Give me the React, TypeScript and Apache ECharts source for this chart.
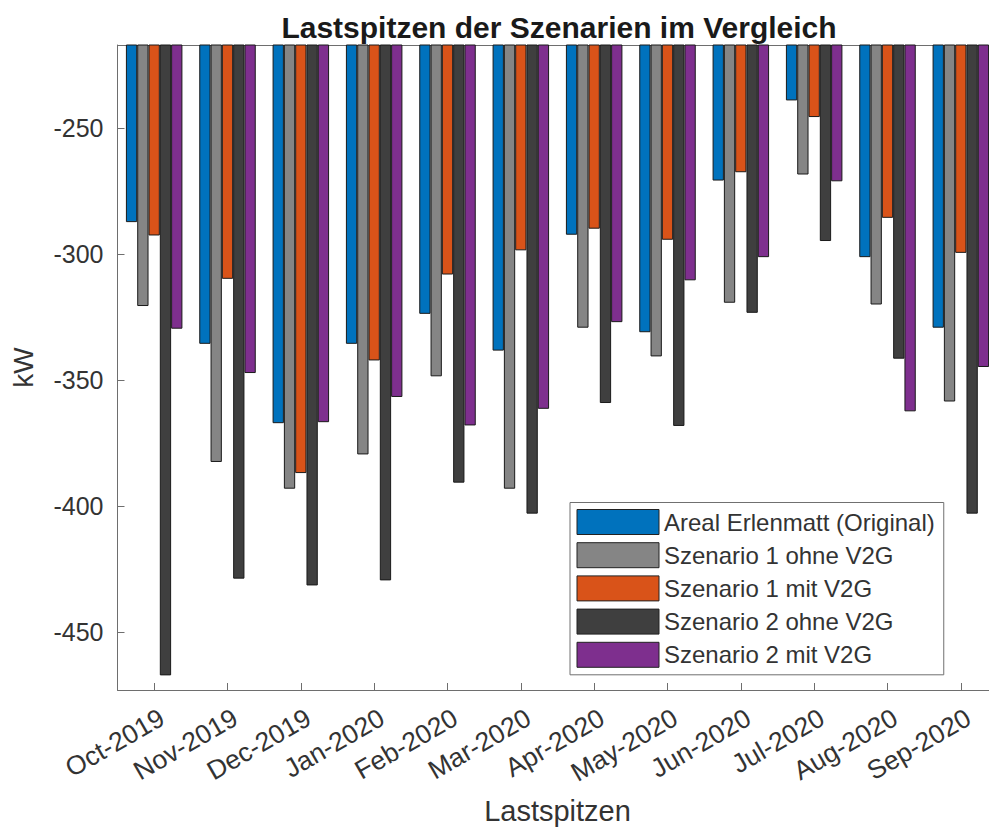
import React, { useEffect, useRef } from "react";
import * as echarts from "echarts";

// Monthly load peaks (kW, negative = draw from grid)
const months = [
  "Oct-2019", "Nov-2019", "Dec-2019", "Jan-2020", "Feb-2020", "Mar-2020",
  "Apr-2020", "May-2020", "Jun-2020", "Jul-2020", "Aug-2020", "Sep-2020",
];
const arealOriginal = [-287.3, -335.6, -367.1, -335.6, -323.7, -338.3, -292.3, -331.0, -270.8, -239.0, -301.2, -329.2];
const szenario1Ohne = [-320.6, -382.5, -393.1, -379.5, -348.5, -393.1, -329.2, -340.6, -319.3, -268.4, -320.0, -358.5];
const szenario1Mit = [-292.6, -309.8, -386.9, -342.2, -308.1, -298.5, -289.9, -294.3, -267.5, -245.6, -285.6, -299.5];
const szenario2Ohne = [-467.2, -428.8, -431.5, -429.5, -390.7, -403.0, -359.1, -368.2, -323.3, -294.8, -341.5, -403.0];
const szenario2Mit = [-329.6, -347.2, -366.7, -356.7, -368.0, -361.4, -327.0, -310.4, -301.2, -271.1, -362.4, -344.8];

const seriesNames = [
  "Areal Erlenmatt (Original)",
  "Szenario 1 ohne V2G",
  "Szenario 1 mit V2G",
  "Szenario 2 ohne V2G",
  "Szenario 2 mit V2G",
];
const seriesColors = ["#0072BD", "#858585", "#D95319", "#3f3f3f", "#7E2F8E"];
const yTicks = [-450, -400, -350, -300, -250];

const FONT = "'Liberation Sans', Arial, Helvetica, sans-serif";
const TEXT = "#333333";
const AXIS = "#6e6e6e";

export default function App() {
  const ref = useRef<HTMLDivElement>(null);

  useEffect(() => {
    if (!ref.current) return;
    const chart = echarts.init(ref.current, undefined, { renderer: "svg" });
    const values = [arealOriginal, szenario1Ohne, szenario1Mit, szenario2Ohne, szenario2Mit];

    chart.setOption({
      animation: false,
      backgroundColor: "#ffffff",
      textStyle: { fontFamily: FONT },
      title: {
        text: "Lastspitzen der Szenarien im Vergleich",
        left: 554,
        top: 7,
        textAlign: "center",
        textStyle: { fontFamily: FONT, fontSize: 30, fontWeight: "bold", color: "#1a1a1a" },
      },
      grid: {
        left: 117.5,
        top: 45,
        width: 880,
        height: 645,
        outerBoundsMode: "none",
        containLabel: false,
        show: false,
      },
      // blank strip at the cut-off right edge below the last bars
      graphic: [
        {
          type: "rect",
          z: 100,
          silent: true,
          shape: { x: 983, y: 372, width: 40, height: 316 },
          style: { fill: "#ffffff" },
        },
      ],
      legend: {
        orient: "vertical",
        left: 570,
        top: 502.5,
        padding: [6.5, 9, 7, 6.5],
        itemWidth: 82,
        itemHeight: 25,
        itemGap: 7.2,
        icon: "rect",
        backgroundColor: "#ffffff",
        borderColor: "#707070",
        borderWidth: 1,
        borderRadius: 0,
        textStyle: { fontFamily: FONT, fontSize: 24, color: TEXT },
        itemStyle: { borderColor: "#222222", borderWidth: 1 },
        data: seriesNames,
      },
      xAxis: [
        {
          type: "category",
          data: months,
          boundaryGap: true,
          name: "Lastspitzen",
          nameLocation: "middle",
          nameGap: 106,
          nameTextStyle: { fontFamily: FONT, fontSize: 29, color: TEXT },
          axisLine: { show: true, lineStyle: { color: AXIS, width: 1 } },
          axisTick: { show: true, inside: true, length: 7, alignWithLabel: true, lineStyle: { color: AXIS } },
          axisLabel: {
            interval: 0,
            rotate: 30,
            margin: 30,
            padding: [0, -9, 0, 0],
            fontFamily: FONT,
            fontSize: 26.5,
            color: TEXT,
          },
          splitLine: { show: false },
        },
        {
          // box edge along the top of the plot area
          type: "category",
          data: months,
          position: "top",
          boundaryGap: true,
          axisLine: { show: true, lineStyle: { color: AXIS, width: 1 } },
          axisTick: { show: false },
          axisLabel: { show: false },
          splitLine: { show: false },
        },
      ],
      yAxis: {
        type: "value",
        min: -473,
        max: -217,
        name: "kW",
        nameLocation: "middle",
        nameGap: 80,
        nameTextStyle: { fontFamily: FONT, fontSize: 28, color: TEXT },
        axisLine: { show: true, lineStyle: { color: AXIS, width: 1 } },
        axisTick: { show: true, inside: true, length: 7, customValues: yTicks, lineStyle: { color: AXIS } },
        axisLabel: { customValues: yTicks, margin: 14, fontFamily: FONT, fontSize: 25, color: TEXT },
        splitLine: { show: false },
      },
      series: seriesNames.map((name, i) => ({
        name,
        type: "bar",
        xAxisIndex: 0,
        data: values[i],
        barWidth: 11.3,
        barGap: "0%",
        clip: true,
        z: 2,
        itemStyle: { color: seriesColors[i], borderColor: "#1a1a1a", borderWidth: 1 },
        emphasis: { disabled: true },
      })),
    });

    return () => chart.dispose();
  }, []);

  return (
    <div
      ref={ref}
      style={{ position: "fixed", left: 0, top: 0, width: 1010, height: 832 }}
    />
  );
}
